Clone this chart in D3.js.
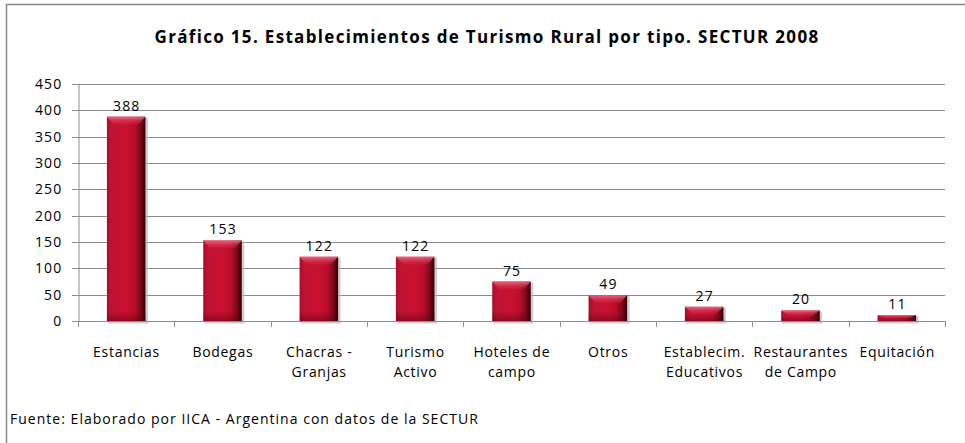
<!DOCTYPE html>
<html><head><meta charset="utf-8">
<script src="https://cdn.jsdelivr.net/npm/d3@7"></script>
<style>body{margin:0;background:#fff}svg{display:block}</style>
</head><body>
<script>
const categories = [["Estancias"],["Bodegas"],["Chacras -","Granjas"],["Turismo","Activo"],["Hoteles de","campo"],["Otros"],["Establecim.","Educativos"],["Restaurantes","de Campo"],["Equitación"]];
const values = [388,153,122,122,75,49,27,20,11];
const yTicks = [0,50,100,150,200,250,300,350,400,450];
const title = "Gráfico 15. Establecimientos de Turismo Rural por tipo. SECTUR 2008";
const source = "Fuente: Elaborado por IICA - Argentina con datos de la SECTUR";

const W=965,H=443;
const font = "'Open Sans', 'Liberation Sans', sans-serif";
const svg=d3.select("body").append("svg").attr("width",W).attr("height",H);
const defs=svg.append("defs");
const g1=defs.append("linearGradient").attr("id","bar").attr("x1",0).attr("x2",1).attr("y1",0).attr("y2",0);
[[0,"#a80d2c"],[0.12,"#c21233"],[0.5,"#c8112f"],[0.72,"#b80e2b"],[0.88,"#7a0819"],[1,"#300006"]].forEach(([o,c])=>g1.append("stop").attr("offset",o).attr("stop-color",c));
const g2=defs.append("linearGradient").attr("id","cap").attr("x1",0).attr("x2",0).attr("y1",0).attr("y2",1);
[[0,"#f0708a",0.9],[1,"#d02a48",0.2]].forEach(([o,c,a])=>g2.append("stop").attr("offset",o).attr("stop-color",c).attr("stop-opacity",a));
const g3=defs.append("linearGradient").attr("id","bot").attr("x1",0).attr("x2",0).attr("y1",0).attr("y2",1);
[[0,"#500010",0],[1,"#500010",0.45]].forEach(([o,c,a])=>g3.append("stop").attr("offset",o).attr("stop-color",c).attr("stop-opacity",a));

svg.append("rect").attr("x",6.5).attr("y",4.5).attr("width",W).attr("height",H).attr("fill","none").attr("stroke","#8a8a8a").attr("stroke-width",1.5);

const x=d3.scaleBand().domain(d3.range(values.length)).range([78,945]).paddingInner(0.6).paddingOuter(0.3);
const y=d3.scaleLinear().domain([0,450]).range([321,84]);

svg.append("g").selectAll("line").data(yTicks).join("line")
  .attr("x1",72).attr("x2",945).attr("y1",d=>Math.round(y(d))+0.5).attr("y2",d=>Math.round(y(d))+0.5)
  .attr("stroke","#8c8c8c").attr("stroke-width",1);
const ya=svg.append("g").attr("transform","translate(78.5,0)").call(d3.axisLeft(y).tickValues(yTicks).tickSize(0).tickPadding(16));
ya.select(".domain").attr("stroke","#8c8c8c");
ya.selectAll("text").attr("font-family",font).attr("font-size",14).attr("letter-spacing",1.2).attr("fill","#000");

const band=x.step();
const bounds=d3.range(values.length+1).map(i=>78+i*band);
svg.append("g").selectAll("line").data(bounds).join("line")
  .attr("x1",d=>Math.round(d)+0.5).attr("x2",d=>Math.round(d)+0.5).attr("y1",321).attr("y2",327).attr("stroke","#8c8c8c");

const bars=svg.append("g").selectAll("g").data(values).join("g");
bars.append("rect").attr("x",(d,i)=>x(i)+1).attr("y",d=>y(d)+1).attr("width",x.bandwidth()+1.5).attr("height",d=>y(0)-y(d)+1.5).attr("fill","#b8b8b8").attr("opacity",0.7);
bars.append("rect").attr("x",(d,i)=>x(i)).attr("y",d=>y(d)).attr("width",x.bandwidth()).attr("height",d=>y(0)-y(d)).attr("fill","url(#bar)");
bars.append("path").attr("d",(d,i)=>{const x0=x(i),w=x.bandwidth(),t=y(d),h=Math.min(8,(y(0)-y(d))/2);
  return `M${x0},${t}H${x0+w}L${x0+w-7},${t+h}H${x0+7}Z`;}).attr("fill","url(#cap)");
bars.append("rect").attr("x",(d,i)=>x(i)).attr("y",d=>y(0)-Math.min(10,(y(0)-y(d))/2)).attr("width",x.bandwidth()).attr("height",d=>Math.min(10,(y(0)-y(d))/2)).attr("fill","url(#bot)");
bars.append("text").attr("x",(d,i)=>x(i)+x.bandwidth()/2+0.6).attr("y",d=>y(d)-6).attr("text-anchor","middle")
  .attr("font-family",font).attr("font-size",14).attr("letter-spacing",1.2).attr("fill","#000").text(d=>d);

svg.append("line").attr("x1",72).attr("x2",945).attr("y1",321.5).attr("y2",321.5).attr("stroke","#8c8c8c");

const xl=svg.append("g").selectAll("text").data(categories).join("text")
  .attr("x",(d,i)=>x(i)+x.bandwidth()/2+0.35).attr("y",357).attr("text-anchor","middle")
  .attr("font-family",font).attr("font-size",14).attr("letter-spacing",0.7).attr("fill","#000");
xl.selectAll("tspan").data(d=>d).join("tspan").attr("x",function(){return this.parentNode.getAttribute("x");})
  .attr("dy",(d,i)=>i?20:0).text(d=>d);

svg.append("text").attr("x",487).attr("y",43).attr("text-anchor","middle").attr("font-family",font)
  .attr("font-weight","bold").attr("font-size",17).attr("letter-spacing",1.32).attr("fill","#000").text(title);
svg.append("text").attr("x",10).attr("y",424).attr("font-family",font).attr("font-size",14).attr("letter-spacing",1.02).attr("fill","#000").text(source);
</script>
</body></html>
